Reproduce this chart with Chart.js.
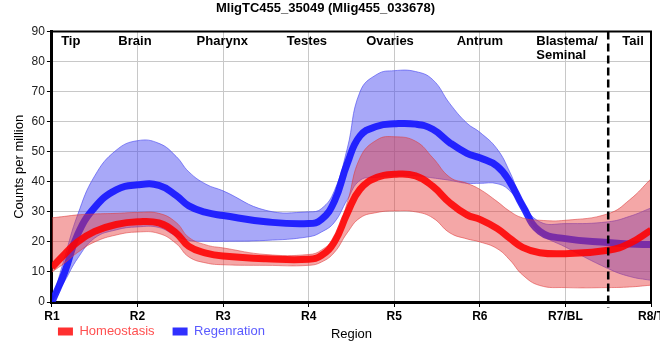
<!DOCTYPE html>
<html>
<head>
<meta charset="utf-8">
<script src="https://cdn.jsdelivr.net/npm/chart.js@4.4.1/dist/chart.umd.min.js"></script>
<style>
    html, body { margin: 0; padding: 0; background: #fff; }
    #wrap { width: 660px; height: 360px; }
</style>
</head>
<body>
<div id="wrap"><canvas id="chartContainer"></canvas></div>
<script>
const regionTicks = ['R1', 'R2', 'R3', 'R4', 'R5', 'R6', 'R7/BL', 'R8/T'];
const regionNames = ['Tip', 'Brain', 'Pharynx', 'Testes', 'Ovaries', 'Antrum', 'Blastema/\nSeminal', 'Tail'];
const regionNameAt = [0.22, 0.97, 1.99, 2.98, 3.95, 5.0, 5.66, 6.79];
const tailSplit = 6.5;

// positions along the body (R1 = 0 ... R8 = 7) where values were read
const xAt = [0, 0.15, 0.3, 0.5, 0.75, 1, 1.25, 1.45, 1.6, 1.8, 2, 2.5, 3, 3.15, 3.3, 3.45, 3.6, 3.8, 4, 4.25, 4.45, 4.65, 4.85, 5, 5.2, 5.35, 5.5, 5.7, 6, 6.5, 6.75, 7];

const homeoMean = [11.5, 16, 20, 23.5, 25.8, 26.7, 26.3, 23, 18.5, 16.3, 15.3, 14.4, 14.2, 15.5, 20, 29.5, 37.5, 41.5, 42.5, 42, 38.5, 33, 29, 27.5, 24.5, 21.2, 18.2, 16.4, 16.1, 17.2, 19.5, 23.9];
const homeoHigh = [28, 28.5, 29, 29.3, 29.5, 29.8, 29.5, 26.5, 21.5, 19, 18, 15.8, 15.8, 17.3, 21.5, 33, 48, 54, 55, 53.5, 48, 41.5, 39.5, 37.5, 33.5, 30.2, 28, 27.2, 27.2, 29.4, 34, 41];
const homeoLow = [10, 13, 16.5, 20, 22.3, 23.3, 22.8, 19.5, 15, 13, 12.4, 12.2, 12.2, 13.3, 16.5, 23, 28, 29.8, 30.3, 30, 28, 23, 21, 20, 17.8, 14, 9, 5.5, 4.8, 4.8, 5, 5.6];

const regenMean = [0, 10, 22.5, 31.5, 37.3, 39, 38.8, 35.5, 32, 29.8, 28.8, 26.7, 26.1, 27.5, 33.5, 46, 55.3, 58.5, 59.3, 59.2, 57.5, 53, 49.5, 48, 45.3, 40, 32, 23.5, 21.1, 19.8, 19.3, 19.1];
const regenHigh = [0, 15, 29, 42, 50.5, 53.7, 52.8, 48.5, 43.3, 39.2, 37, 30.5, 30, 31.1, 37, 51, 70, 75.8, 77, 76.7, 74, 66, 59.5, 56.5, 51, 43.3, 33.5, 26.7, 26.1, 26.7, 28.5, 31.3];
const regenLow = [0, 7, 14.5, 21.3, 24, 25, 24.8, 22, 20.5, 20.2, 20.2, 20.5, 21.7, 23.3, 26.5, 34, 40.5, 41.5, 42, 42, 41.3, 40.5, 39.5, 39.5, 39.4, 37, 31, 23, 18.3, 11.1, 8.5, 7.2];

const FONT = '"Liberation Sans", Arial, sans-serif';

function pts(values) {
    return xAt.map((x, i) => ({ x: x, y: values[i] }));
}

function band(values, fillColor, lineColor, fill) {
    return {
        data: pts(values),
        borderColor: lineColor,
        backgroundColor: fillColor,
        borderWidth: 1,
        pointRadius: 0,
        fill: fill,
        tension: 0.45
    };
}

function mean(label, values, color) {
    return {
        label: label,
        data: pts(values),
        borderColor: color,
        borderWidth: 7,
        pointRadius: 0,
        fill: false,
        tension: 0.45
    };
}

// extra drawing: frame, tail split, region names, legend placement
const overlay = {
    id: 'overlay',
    afterLayout(chart) {
        const lg = chart.legend;
        const a = chart.chartArea;
        lg.left = a.left - 12;
        lg.top = chart.scales.x.bottom - 37;
        lg.bottom = lg.top + 50;
    },
    afterDatasetsDraw(chart) {
        const { ctx, chartArea: a, scales: { x } } = chart;
        ctx.save();
        ctx.strokeStyle = '#000';
        ctx.lineWidth = 2;
        ctx.beginPath();
        ctx.moveTo(a.left, a.top);
        ctx.lineTo(a.right, a.top);
        ctx.lineTo(a.right, a.bottom);
        ctx.stroke();

        const dx = x.getPixelForValue(tailSplit);
        ctx.setLineDash([8, 4]);
        ctx.lineWidth = 2.5;
        ctx.beginPath();
        ctx.moveTo(dx, a.top);
        ctx.lineTo(dx, a.bottom + 6);
        ctx.stroke();
        ctx.setLineDash([]);

        ctx.font = 'bold 13px ' + FONT;
        ctx.fillStyle = '#000';
        ctx.textBaseline = 'middle';
        regionNames.forEach((name, i) => {
            const lines = name.split('\n');
            ctx.textAlign = lines.length > 1 ? 'left' : 'center';
            lines.forEach((t, j) => {
                ctx.fillText(t, x.getPixelForValue(regionNameAt[i]), a.top + 10 + j * 14);
            });
        });
        ctx.restore();
    }
};

const ctx = document.getElementById('chartContainer').getContext('2d');

new Chart(ctx, {
    type: 'line',
    data: {
        datasets: [
            mean('Homeostasis', homeoMean, 'rgba(255, 0, 0, 0.87)'),
            band(homeoHigh, 'rgba(230, 60, 60, 0.45)', 'rgba(220, 60, 60, 0.55)', '+1'),
            band(homeoLow, 'rgba(230, 60, 60, 0.45)', 'rgba(220, 60, 60, 0.55)', false),
            mean('Regenration', regenMean, 'rgba(20, 20, 255, 0.9)'),
            band(regenHigh, 'rgba(70, 70, 240, 0.47)', 'rgba(70, 70, 240, 0.6)', '+1'),
            band(regenLow, 'rgba(70, 70, 240, 0.47)', 'rgba(70, 70, 240, 0.6)', false)
        ]
    },
    options: {
        responsive: true,
        maintainAspectRatio: false,
        animation: false,
        devicePixelRatio: 1,
        layout: { padding: { left: 0, right: 9, top: 0, bottom: 6 } },
        scales: {
            x: {
                type: 'linear',
                min: 0,
                max: 7,
                afterFit: s => { s.paddingLeft = 0; s.paddingRight = 0; },
                ticks: {
                    stepSize: 1,
                    autoSkip: false,
                    maxRotation: 0,
                    padding: 2,
                    color: '#000',
                    font: { family: FONT, size: 12, weight: 'bold' },
                    callback: v => regionTicks[v]
                },
                grid: { color: '#c8c8c8', tickColor: '#000', tickLength: 5 },
                border: { color: '#000', width: 3 },
                title: {
                    display: true,
                    text: 'Region',
                    color: '#000',
                    font: { family: FONT, size: 13 },
                    padding: { top: 1, bottom: 2 }
                }
            },
            y: {
                min: 0,
                max: 90,
                ticks: {
                    stepSize: 10,
                    padding: 2,
                    color: '#222',
                    font: { family: FONT, size: 12 }
                },
                grid: { color: '#c8c8c8', tickColor: '#000', tickLength: 5 },
                border: { color: '#000', width: 3 },
                title: {
                    display: true,
                    text: 'Counts per million',
                    color: '#000',
                    font: { family: FONT, size: 13 },
                    padding: { top: 12, bottom: 2 }
                }
            }
        },
        plugins: {
            title: {
                display: true,
                text: 'MligTC455_35049 (Mlig455_033678)',
                color: '#000',
                font: { family: FONT, size: 13, weight: 'bold' },
                padding: { top: 1, bottom: 15 }
            },
            legend: {
                position: 'bottom',
                align: 'start',
                maxHeight: 10,
                labels: {
                    boxWidth: 15,
                    boxHeight: 8,
                    padding: 18,
                    font: { family: FONT, size: 13 },
                    generateLabels: () => [
                        { text: 'Homeostasis', fillStyle: '#ff3030', strokeStyle: '#ff3030', lineWidth: 0, fontColor: '#ff5050', datasetIndex: 0, hidden: false },
                        { text: 'Regenration', fillStyle: '#3030ff', strokeStyle: '#3030ff', lineWidth: 0, fontColor: '#5a5aff', datasetIndex: 3, hidden: false }
                    ]
                }
            },
            tooltip: { enabled: false }
        }
    },
    plugins: [overlay]
});
</script>
</body>
</html>
